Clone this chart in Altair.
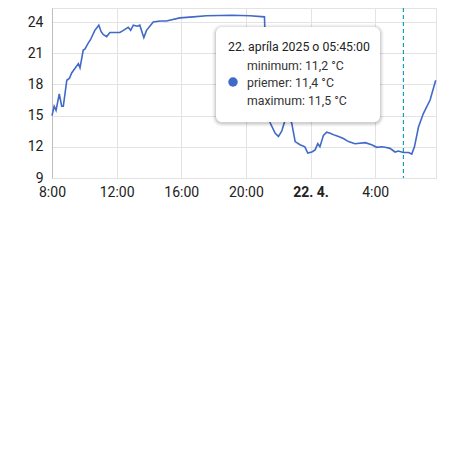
import altair as alt
import pandas as pd

# ---- data ----
day1_times = ["08:00", "08:08", "08:15", "08:27", "08:36", "08:42", "08:55", "09:05", "09:13",
              "09:38", "09:44", "09:56", "10:02", "10:15", "10:23", "10:39", "10:54", "11:02",
              "11:10", "11:23", "11:35", "12:12", "12:25", "12:43", "12:52", "13:02", "13:17",
              "13:26", "13:41", "13:51", "14:16", "14:41", "15:05", "15:55", "16:44", "17:34",
              "19:08", "20:15", "21:09", "21:14", "21:30", "21:49", "22:01", "22:13", "22:20",
              "22:32", "22:50", "23:03", "23:21", "23:39", "23:50"]
day1_values = [15.0, 15.9, 15.5, 17.1, 15.9, 15.9, 18.4, 18.6, 19.1,
               20.0, 19.6, 21.3, 21.4, 22.0, 22.3, 23.2, 23.7, 23.1,
               22.8, 22.6, 23.0, 23.0, 23.2, 23.5, 23.2, 23.7, 23.6,
               23.7, 22.5, 23.2, 24.0, 24.1, 24.1, 24.4, 24.5, 24.6,
               24.65, 24.6, 24.5, 20.0, 14.3, 13.3, 13.0, 13.5, 14.1,
               15.0, 14.3, 12.5, 12.2, 12.0, 11.4]
day2_times = ["00:05", "00:17", "00:27", "00:35", "00:48", "01:00", "01:13", "01:31", "01:44",
              "02:02", "02:21", "02:45", "03:23", "03:47", "04:06", "04:25", "04:37", "04:55",
              "05:14", "05:26", "05:45", "06:04", "06:16", "06:26", "06:41", "06:59", "07:24",
              "07:45"]
day2_values = [11.5, 11.7, 12.3, 12.0, 13.1, 13.4, 13.3, 13.1, 13.0,
               12.8, 12.5, 12.3, 12.4, 12.2, 11.95, 12.0, 11.95, 11.85,
               11.5, 11.6, 11.45, 11.45, 11.3, 12.0, 13.9, 15.2, 16.5,
               18.4]

y_ticks = [9, 12, 15, 18, 21, 24]
cursor_time = "2025-04-22T05:45:00"
tooltip_title = "22. apríla 2025 o 05:45:00"
tooltip_lines = ["minimum: 11,2 °C", "priemer: 11,4 °C", "maximum: 11,5 °C"]

df = pd.DataFrame({
    "t": ["2025-04-21T" + t + ":00" for t in day1_times] + ["2025-04-22T" + t + ":00" for t in day2_times],
    "v": day1_values + day2_values,
})

W, H = 384, 170
FONT = "Roboto"
LINE = "#4169c8"

x_ticks = [alt.DateTime(year=2025, month=4, date=21, hours=h) for h in (8, 12, 16, 20)] + \
          [alt.DateTime(year=2025, month=4, date=22, hours=h) for h in (0, 4)]

xscale = alt.Scale(domain=[alt.DateTime(year=2025, month=4, date=21, hours=8),
                           alt.DateTime(year=2025, month=4, date=22, hours=7, minutes=46)])
yscale = alt.Scale(domain=[9, 25.35], nice=False, zero=False)

x_axis = alt.Axis(values=x_ticks, title=None, grid=True, gridColor="#e3e3e3",
                  domainColor="#e3e3e3", ticks=False, labelPadding=7, labelFlush=False,
                  labelFont=FONT, labelFontSize=14, labelColor="#222",
                  labelExpr="hours(datum.value) == 0 ? '22. 4.' : hours(datum.value) + ':00'",
                  labelFontWeight={"condition": {"test": "hours(datum.value) == 0", "value": "bold"},
                                   "value": "normal"})
y_axis = alt.Axis(values=y_ticks, title=None, grid=True, gridColor="#e3e3e3",
                  domainColor="#bdbdbd", ticks=False, labelPadding=9, labelFlush=False,
                  labelFont=FONT, labelFontSize=14, labelColor="#222")

line = alt.Chart(df).mark_line(color=LINE, strokeWidth=1.6, interpolate="linear").encode(
    x=alt.X("t:T", scale=xscale, axis=x_axis),
    y=alt.Y("v:Q", scale=yscale, axis=y_axis),
)

rule = alt.Chart(pd.DataFrame({"t": [cursor_time]})).mark_rule(
    color="#1a9cb6", strokeWidth=1.2, strokeDash=[4, 3]).encode(x=alt.X("t:T", scale=xscale))

one = pd.DataFrame({"a": [0]})
bx0, bx1, by0, by1 = 164, 328, 19, 114
shadows = []
for i, op in zip((4, 3, 2, 1), (0.025, 0.035, 0.05, 0.07)):
    shadows.append(alt.Chart(one).mark_rect(color="#000", opacity=op, cornerRadius=6 + i).encode(
        x=alt.value(bx0 - i), x2=alt.value(bx1 + i), y=alt.value(by0 - i + 1), y2=alt.value(by1 + i + 1)))
box = alt.Chart(one).mark_rect(color="white", cornerRadius=6).encode(
    x=alt.value(bx0), x2=alt.value(bx1), y=alt.value(by0), y2=alt.value(by1))

title_txt = alt.Chart(one).mark_text(font=FONT, fontSize=12.3, color="#222", align="left",
                                     baseline="middle").encode(
    x=alt.value(176), y=alt.value(39), text=alt.value(tooltip_title))
line_txts = [alt.Chart(one).mark_text(font=FONT, fontSize=12.3, color="#333", align="left",
                                      baseline="middle").encode(
    x=alt.value(195), y=alt.value(yy), text=alt.value(s))
    for s, yy in zip(tooltip_lines, (58, 75, 93))]
dot = alt.Chart(one).mark_point(filled=True, shape="circle", size=90, color=LINE, opacity=1).encode(
    x=alt.value(181), y=alt.value(74))

chart = alt.layer(line, rule, *shadows, box, title_txt, *line_txts, dot).properties(
    width=W, height=H,
    autosize=alt.AutoSizeParams(type="none"),
    padding={"left": 44, "top": 0, "right": 12, "bottom": 34},
).configure_view(stroke="#e3e3e3")

chart.save("out.html", embed_options={"renderer": "svg", "actions": False})
